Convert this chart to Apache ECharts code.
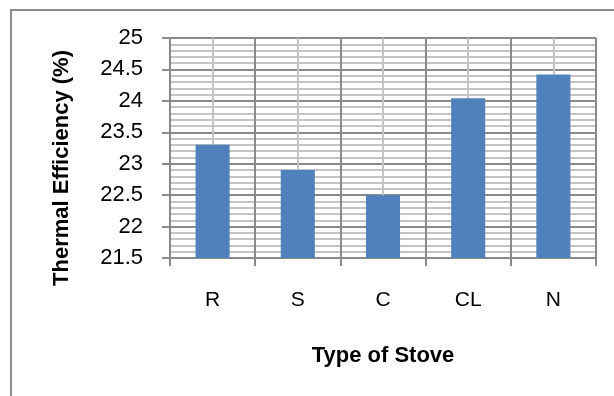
<!DOCTYPE html>
<html>
<head>
<meta charset="utf-8">
<script src="https://cdn.jsdelivr.net/npm/echarts@6/dist/echarts.min.js"></script>
<style>
  html, body { margin: 0; padding: 0; background: #fff; }
  #chart { width: 614px; height: 396px; }
</style>
</head>
<body>
<div id="chart"></div>
<script>
  // stove types and measured thermal efficiency (%)
  var stoves = ['R', 'S', 'C', 'CL', 'N'];
  var efficiency = [23.3, 22.9, 22.5, 24.04, 24.42];

  var chart = echarts.init(document.getElementById('chart'));
  var font = 'Liberation Sans, Arial, sans-serif';
  var major = '#8a8a8a';
  var minor = '#c4c4c4';

  var option = {
    backgroundColor: '#fff',
    animation: false,
    grid: { left: 170, right: 18, top: 38, bottom: 138 },
    graphic: [{
      type: 'rect',
      shape: { x: 11, y: 10, width: 700, height: 500 },
      style: { fill: 'none', stroke: '#8c8c8c', lineWidth: 2 },
      z: -1
    }, {
      type: 'text',
      x: 62, y: 168,
      rotation: Math.PI / 2,
      style: {
        text: 'Thermal Efficiency (%)',
        font: 'bold 22px ' + font,
        fill: '#000',
        align: 'center',
        verticalAlign: 'middle'
      }
    }],
    xAxis: [{
      type: 'category',
      data: stoves,
      boundaryGap: true,
      name: 'Type of Stove',
      nameLocation: 'middle',
      nameGap: 87,
      nameTextStyle: { fontFamily: font, fontSize: 22, fontWeight: 'bold', color: '#000' },
      axisLine: { lineStyle: { color: major, width: 2 } },
      axisTick: { show: true, length: 8, lineStyle: { color: major, width: 2 } },
      axisLabel: { fontFamily: font, fontSize: 21, color: '#000', margin: 32 },
      splitLine: { show: true, lineStyle: { color: major, width: 2 } },
      z: 3
    }, {
      // helper axis for the light lines through category centres
      type: 'value',
      min: 0,
      max: 5,
      interval: 1,
      show: true,
      position: 'bottom',
      axisLine: { show: false },
      axisTick: { show: false },
      axisLabel: { show: false },
      splitLine: { show: false },
      minorTick: { show: false, splitNumber: 2 },
      minorSplitLine: { show: true, lineStyle: { color: minor, width: 2 } }
    }],
    yAxis: {
      type: 'value',
      min: 21.5,
      max: 25,
      interval: 0.5,
      axisLine: { show: true, lineStyle: { color: major, width: 2 } },
      axisTick: { show: true, length: 8, lineStyle: { color: major, width: 2 } },
      axisLabel: { fontFamily: font, fontSize: 22, color: '#000', margin: 27 },
      splitLine: { show: true, lineStyle: { color: major, width: 2 } },
      minorTick: { show: false, splitNumber: 5 },
      minorSplitLine: { show: true, lineStyle: { color: minor, width: 2 } }
    },
    series: [{
      type: 'bar',
      xAxisIndex: 0,
      data: efficiency,
      barWidth: '40%',
      itemStyle: { color: '#4f81bd' },
      z: 5
    }]
  };

  chart.setOption(option);
</script>
</body>
</html>
